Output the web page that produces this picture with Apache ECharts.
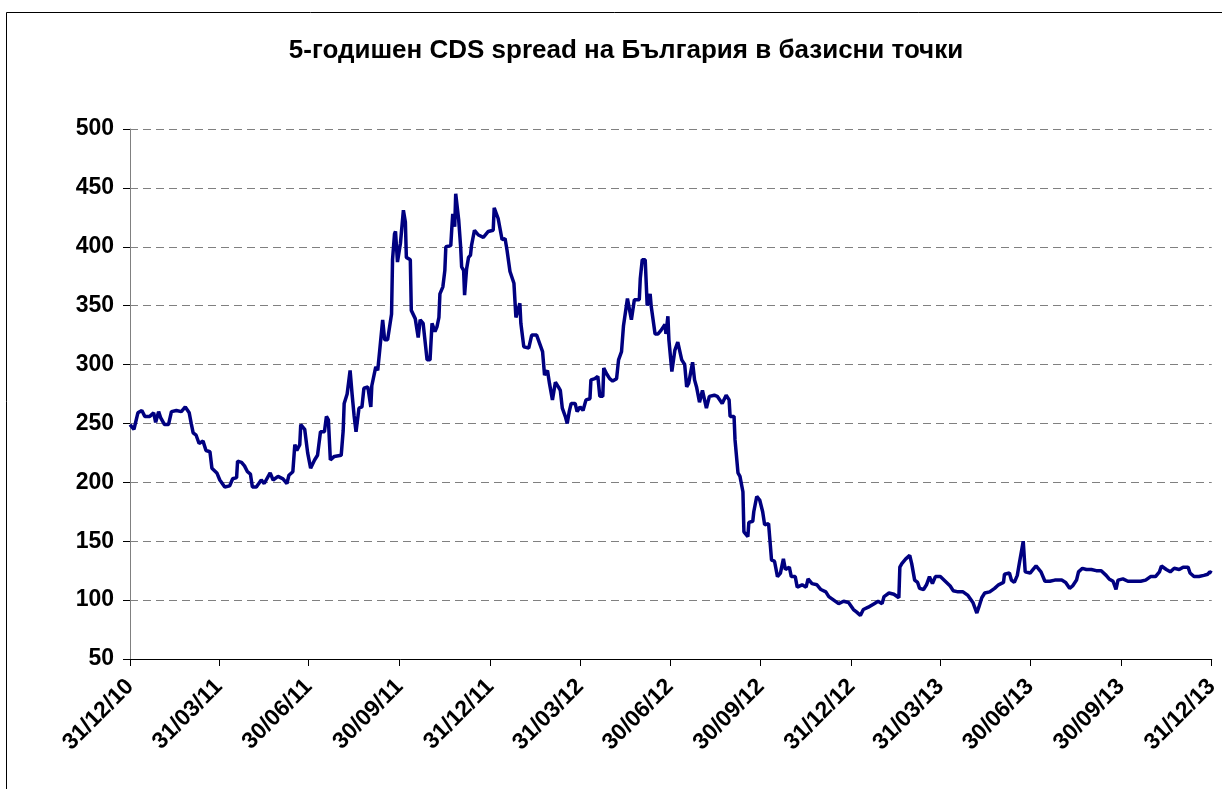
<!DOCTYPE html>
<html>
<head>
<meta charset="utf-8">
<title>CDS spread</title>
<script src="https://cdn.jsdelivr.net/npm/echarts@6/dist/echarts.min.js"></script>
<style>
	html, body { margin: 0; padding: 0; background: #fff; }
	#main { width: 1222px; height: 789px; }
</style>
</head>
<body>
<div id="main"></div>
<script>
// дати (дневни наблюдения, извадка)
var dates = [
	'2010-12-31','2011-01-04','2011-01-08','2011-01-12','2011-01-15','2011-01-20','2011-01-24','2011-01-26','2011-01-29','2011-01-31',
	'2011-02-04','2011-02-08','2011-02-11','2011-02-16','2011-02-21','2011-02-25','2011-03-01','2011-03-03','2011-03-05','2011-03-08',
	'2011-03-11','2011-03-15','2011-03-18','2011-03-22','2011-03-24','2011-03-29','2011-04-01','2011-04-06','2011-04-11','2011-04-14',
	'2011-04-18','2011-04-19','2011-04-23','2011-04-26','2011-04-29','2011-05-02','2011-05-04','2011-05-08','2011-05-13','2011-05-16',
	'2011-05-22','2011-05-25','2011-05-30','2011-06-04','2011-06-08','2011-06-10','2011-06-14','2011-06-16','2011-06-18','2011-06-21',
	'2011-06-22','2011-06-26','2011-06-29','2011-07-02','2011-07-06','2011-07-09','2011-07-12','2011-07-16','2011-07-18','2011-07-20',
	'2011-07-22','2011-07-26','2011-08-02','2011-08-04','2011-08-05','2011-08-08','2011-08-11','2011-08-13','2011-08-15','2011-08-17',
	'2011-08-20','2011-08-23','2011-08-25','2011-08-29','2011-09-01','2011-09-02','2011-09-06','2011-09-08','2011-09-10','2011-09-13',
	'2011-09-15','2011-09-18','2011-09-22','2011-09-23','2011-09-25','2011-09-26','2011-09-28','2011-10-01','2011-10-04','2011-10-06',
	'2011-10-07','2011-10-11','2011-10-12','2011-10-16','2011-10-19','2011-10-21','2011-10-24','2011-10-25','2011-10-28','2011-10-31',
	'2011-11-02','2011-11-05','2011-11-07','2011-11-09','2011-11-10','2011-11-13','2011-11-15','2011-11-16','2011-11-18','2011-11-21',
	'2011-11-22','2011-11-23','2011-11-25','2011-11-26','2011-11-28','2011-11-29','2011-12-01','2011-12-02','2011-12-04','2011-12-05',
	'2011-12-07','2011-12-09','2011-12-11','2011-12-12','2011-12-15','2011-12-19','2011-12-24','2011-12-29','2012-01-03','2012-01-04',
	'2012-01-08','2012-01-12','2012-01-15','2012-01-17','2012-01-20','2012-01-24','2012-01-26','2012-01-30','2012-01-31','2012-02-03',
	'2012-02-08','2012-02-11','2012-02-16','2012-02-19','2012-02-22','2012-02-23','2012-02-24','2012-02-27','2012-02-29','2012-03-03',
	'2012-03-06','2012-03-09','2012-03-11','2012-03-13','2012-03-16','2012-03-18','2012-03-20','2012-03-22','2012-03-26','2012-03-28',
	'2012-03-31','2012-04-03','2012-04-06','2012-04-10','2012-04-11','2012-04-15','2012-04-18','2012-04-20','2012-04-23','2012-04-24',
	'2012-04-27','2012-04-30','2012-05-03','2012-05-07','2012-05-09','2012-05-12','2012-05-14','2012-05-16','2012-05-18','2012-05-20',
	'2012-05-22','2012-05-25','2012-05-30','2012-05-31','2012-06-02','2012-06-05','2012-06-07','2012-06-10','2012-06-11','2012-06-15',
	'2012-06-18','2012-06-21','2012-06-25','2012-06-26','2012-06-28','2012-06-29','2012-07-02','2012-07-05','2012-07-08','2012-07-12',
	'2012-07-15','2012-07-17','2012-07-19','2012-07-23','2012-07-25','2012-07-27','2012-07-30','2012-08-02','2012-08-06','2012-08-09',
	'2012-08-14','2012-08-17','2012-08-22','2012-08-26','2012-08-29','2012-08-30','2012-09-03','2012-09-04','2012-09-07','2012-09-09',
	'2012-09-12','2012-09-13','2012-09-17','2012-09-18','2012-09-22','2012-09-23','2012-09-26','2012-09-29','2012-10-02','2012-10-04',
	'2012-10-08','2012-10-11','2012-10-14','2012-10-17','2012-10-20','2012-10-23','2012-10-25','2012-10-29','2012-10-31','2012-11-04',
	'2012-11-06','2012-11-11','2012-11-15','2012-11-17','2012-11-21','2012-11-26','2012-11-30','2012-12-05','2012-12-08','2012-12-13',
	'2012-12-18','2012-12-23','2012-12-28','2013-01-02','2013-01-05','2013-01-09','2013-01-12','2013-01-17','2013-01-23','2013-01-27',
	'2013-01-31','2013-02-02','2013-02-07','2013-02-12','2013-02-17','2013-02-18','2013-02-20','2013-02-24','2013-02-28','2013-03-02',
	'2013-03-05','2013-03-08','2013-03-10','2013-03-14','2013-03-17','2013-03-20','2013-03-23','2013-03-26','2013-03-31','2013-04-05',
	'2013-04-10','2013-04-13','2013-04-18','2013-04-23','2013-04-28','2013-05-03','2013-05-07','2013-05-09','2013-05-12','2013-05-15',
	'2013-05-20','2013-05-25','2013-05-29','2013-06-03','2013-06-04','2013-06-09','2013-06-11','2013-06-14','2013-06-17','2013-06-19',
	'2013-06-21','2013-06-23','2013-06-25','2013-06-30','2013-07-03','2013-07-06','2013-07-11','2013-07-15','2013-07-20','2013-07-25',
	'2013-08-01','2013-08-05','2013-08-09','2013-08-12','2013-08-16','2013-08-18','2013-08-22','2013-08-26','2013-08-31','2013-09-05',
	'2013-09-10','2013-09-15','2013-09-18','2013-09-22','2013-09-25','2013-09-27','2013-10-02','2013-10-07','2013-10-14','2013-10-20',
	'2013-10-25','2013-10-30','2013-11-04','2013-11-08','2013-11-10','2013-11-15','2013-11-19','2013-11-23','2013-11-28','2013-12-02',
	'2013-12-07','2013-12-09','2013-12-13','2013-12-18','2013-12-23','2013-12-27','2013-12-29','2013-12-31'
];

// CDS спред в базисни точки
var spread = [
	249,245,259,261,256,256,259,251,260,255,
	249,249,260,261,260,264,259,250,242,240,
	233,235,227,226,212,208,202,196,197,203,
	204,218,217,214,209,207,196,196,202,199,
	208,202,205,203,199,206,209,232,227,232,
	249,245,225,212,219,223,243,243,256,253,
	219,222,223,244,267,275,295,275,257,243,
	263,264,280,281,264,282,298,295,312,338,
	321,321,343,389,411,413,387,403,431,421,
	391,389,346,339,323,338,335,336,304,304,
	335,328,332,340,360,366,380,400,400,401,
	415,428,417,445,445,423,400,383,380,359,
	381,391,393,401,414,410,408,413,414,433,
	424,406,407,397,379,369,340,352,335,315,
	314,325,325,318,311,301,291,295,284,270,
	285,281,278,263,256,250,260,267,267,260,
	264,261,270,271,287,288,290,273,273,297,
	292,288,286,288,304,311,333,333,356,357,
	338,355,355,373,389,389,350,360,350,326,
	326,329,334,326,341,321,294,312,319,304,
	300,281,284,302,287,281,268,278,263,273,
	274,273,267,274,270,256,256,236,208,205,
	192,158,154,166,167,175,188,185,175,164,
	165,134,133,120,123,135,126,128,120,120,
	111,113,111,118,114,113,109,107,103,100,
	97,99,98,92,90,87,92,94,97,99,
	97,103,106,105,102,128,131,135,138,131,
	117,115,110,109,113,120,114,120,120,116,
	112,108,107,107,104,98,89,94,102,106,
	107,110,113,115,122,123,117,115,121,131,
	131,150,124,123,126,129,124,116,116,117,
	117,115,110,112,117,124,127,126,126,125,
	125,121,118,116,109,117,118,116,116,116,
	117,120,120,124,129,126,124,127,126,128,
	128,123,120,120,121,122,124,123
];

// надписи по оста X (края на тримесечията)
var quarterEnds = [
	'2010-12-31','2011-03-31','2011-06-30','2011-09-30','2011-12-31','2012-03-31','2012-06-30',
	'2012-09-30','2012-12-31','2013-03-31','2013-06-30','2013-09-30','2013-12-31'
];

var yTicks = [50, 100, 150, 200, 250, 300, 350, 400, 450, 500];

var FONT = '"Liberation Sans", Arial, sans-serif';

var chart = echarts.init(document.getElementById('main'));

// низ -> времеви отпечатък
function ts(s) { return +echarts.time.parse(s); }
function pad(n) { return (n < 10 ? '0' : '') + n; }

var seriesData = [];
for (var i = 0; i < dates.length; i++) {
	seriesData.push([ts(dates[i]), spread[i]]);
}
var quarterTs = quarterEnds.map(ts);

var option = {
	animation: false,
	backgroundColor: '#fff',
	title: {
		text: '5-годишен CDS spread на България в базисни точки',
		left: 621,
		textAlign: 'center',
		top: 33,
		textStyle: { fontFamily: FONT, fontSize: 26, fontWeight: 'bold', color: '#000' }
	},
	graphic: [{
		type: 'rect',
		shape: { x: 6.5, y: 12.5, width: 1300, height: 900 },
		style: { fill: 'none', stroke: '#000', lineWidth: 1 },
		silent: true
	}],
	grid: { left: 130, right: 6, top: 129, bottom: 130, containLabel: false },
	xAxis: {
		type: 'value',
		min: quarterTs[0],
		max: quarterTs[quarterTs.length - 1],
		axisLine: { show: true, onZero: false, lineStyle: { color: '#000', width: 1 } },
		axisTick: { show: true, customValues: quarterTs, length: 7, lineStyle: { color: '#000' } },
		splitLine: { show: false },
		axisLabel: {
			customValues: quarterTs,
			rotate: 45,
			margin: 24,
			fontFamily: FONT,
			fontSize: 23,
			fontWeight: 'bold',
			color: '#000',
			formatter: function (v) {
				var d = new Date(v);
				return pad(d.getDate()) + '/' + pad(d.getMonth() + 1) + '/' + String(d.getFullYear()).slice(2);
			}
		}
	},
	yAxis: {
		type: 'value',
		min: yTicks[0],
		max: yTicks[yTicks.length - 1],
		interval: 50,
		axisLine: { show: true, lineStyle: { color: '#808080', width: 1 } },
		axisTick: { show: true, length: 7, lineStyle: { color: '#000' } },
		axisLabel: {
			margin: 16,
			fontFamily: FONT,
			fontSize: 23,
			fontWeight: 'bold',
			color: '#000'
		},
		splitLine: {
			show: true,
			lineStyle: { color: '#808080', type: [8, 5], width: 1 }
		}
	},
	series: [{
		name: 'CDS',
		type: 'line',
		data: seriesData,
		showSymbol: false,
		lineStyle: { color: '#000080', width: 3.5 },
		itemStyle: { color: '#000080' }
	}]
};

chart.setOption(option);
</script>
</body>
</html>
